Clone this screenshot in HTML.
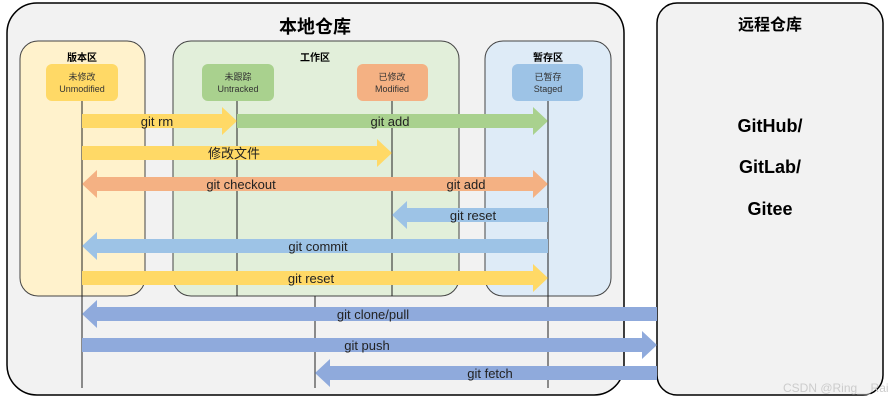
<!DOCTYPE html>
<html><head><meta charset="utf-8"><style>body{margin:0;background:#fff}svg{display:block}</style></head>
<body>
<svg width="889" height="400" xmlns="http://www.w3.org/2000/svg" font-family="Liberation Sans, Noto Sans CJK SC, sans-serif">
<rect x="7" y="3" width="617" height="392" rx="30" fill="#f2f2f2" stroke="#000" stroke-width="1.5"/>
<rect x="657" y="3" width="226" height="392" rx="20" fill="#f2f2f2" stroke="#000" stroke-width="1.5"/>
<rect x="20" y="41" width="125" height="255" rx="18" fill="#fff2cc" stroke="#444" stroke-width="1"/>
<rect x="173" y="41" width="286" height="255" rx="18" fill="#e2efda" stroke="#444" stroke-width="1"/>
<rect x="485" y="41" width="126" height="255" rx="18" fill="#deebf7" stroke="#444" stroke-width="1"/>
<g font-weight="bold" text-anchor="middle" fill="#000">
<text x="315" y="33" font-size="18">本地仓库</text>
<text x="770" y="30" font-size="16">远程仓库</text>
<text x="82" y="61" font-size="10">版本区</text>
<text x="315" y="61" font-size="10">工作区</text>
<text x="548" y="61" font-size="10">暂存区</text>
<text x="770" y="132" font-size="18">GitHub/</text>
<text x="770" y="173" font-size="18">GitLab/</text>
<text x="770" y="215" font-size="18">Gitee</text>
</g>
<g font-size="9" text-anchor="middle" fill="#333">
<rect x="46" y="64" width="72" height="37" rx="6" fill="#ffd966"/>
<text x="82" y="80">未修改</text><text x="82" y="92">Unmodified</text>
<rect x="202" y="64" width="72" height="37" rx="6" fill="#a9d18e"/>
<text x="238" y="80">未跟踪</text><text x="238" y="92">Untracked</text>
<rect x="357" y="64" width="71" height="37" rx="6" fill="#f4b183"/>
<text x="392" y="80">已修改</text><text x="392" y="92">Modified</text>
<rect x="512" y="64" width="71" height="37" rx="6" fill="#9dc3e6"/>
<text x="548" y="80">已暂存</text><text x="548" y="92">Staged</text>
</g>
<g stroke="#222" stroke-width="1">
<line x1="82" y1="101" x2="82" y2="388"/>
<line x1="237" y1="101" x2="237" y2="296"/>
<line x1="392" y1="101" x2="392" y2="296"/>
<line x1="548" y1="101" x2="548" y2="388"/>
<line x1="315" y1="296" x2="315" y2="388"/>
</g>
<g>
<!-- right arrows: shaft y-7..y+7, head y-14..y+14 length 15 -->
<polygon points="82,114 222,114 222,107 237,121 222,135 222,128 82,128" fill="#ffd966"/>
<polygon points="237,114 533,114 533,107 548,121 533,135 533,128 237,128" fill="#a9d18e"/>
<polygon points="82,146 377,146 377,139 392,153 377,167 377,160 82,160" fill="#ffd966"/>
<polygon points="97,177 392,177 392,191 97,191 97,198 82,184 97,170" fill="#f4b183"/>
<polygon points="392,177 533,177 533,170 548,184 533,198 533,191 392,191" fill="#f4b183"/>
<polygon points="548,208 407,208 407,201 392,215 407,229 407,222 548,222" fill="#9dc3e6"/>
<polygon points="548,239 97,239 97,232 82,246 97,260 97,253 548,253" fill="#9dc3e6"/>
<polygon points="82,271 533,271 533,264 548,278 533,292 533,285 82,285" fill="#ffd966"/>
<polygon points="657,307 97,307 97,300 82,314 97,328 97,321 657,321" fill="#8faadc"/>
<polygon points="82,338 642,338 642,331 657,345 642,359 642,352 82,352" fill="#8faadc"/>
<polygon points="657,366 330,366 330,359 315,373 330,387 330,380 657,380" fill="#8faadc"/>
</g>
<g font-size="13" text-anchor="middle" fill="#222">
<text x="157" y="126">git rm</text>
<text x="390" y="126">git add</text>
<text x="234" y="158">修改文件</text>
<text x="241" y="189">git checkout</text>
<text x="466" y="189">git add</text>
<text x="473" y="220">git reset</text>
<text x="318" y="251">git commit</text>
<text x="311" y="283">git reset</text>
<text x="373" y="319">git clone/pull</text>
<text x="367" y="350">git push</text>
<text x="490" y="378">git fetch</text>
</g>
<text x="783" y="392" font-size="12" fill="#ccc">CSDN @Ring__Rain</text>
</svg>
</body></html>
